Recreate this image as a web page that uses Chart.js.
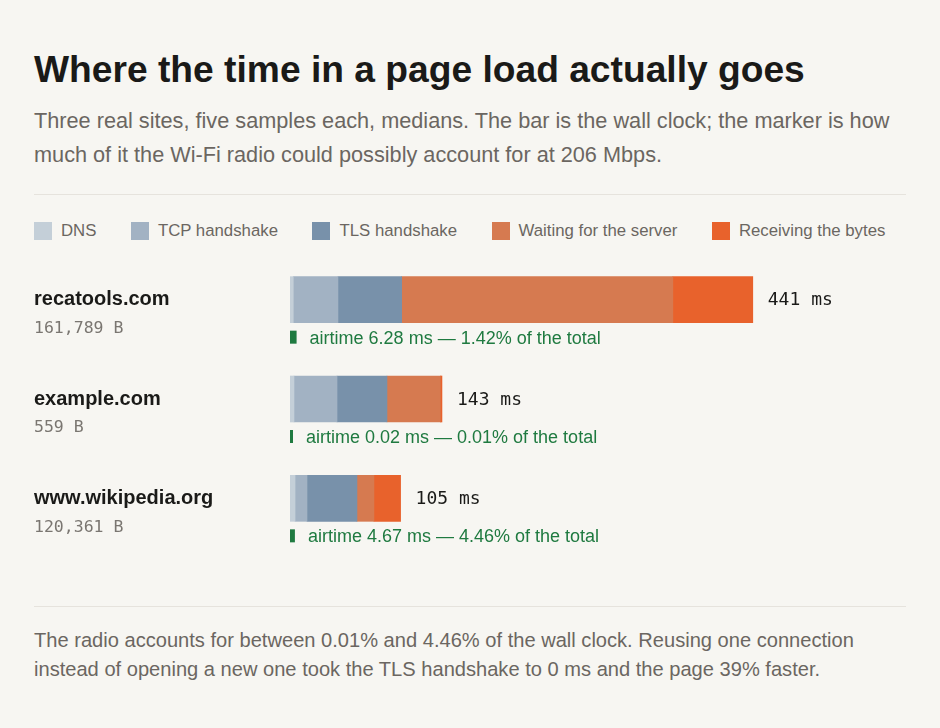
<!DOCTYPE html>
<html>
<head>
<meta charset="utf-8">
<script src="https://cdn.jsdelivr.net/npm/chart.js@4.4.1/dist/chart.umd.min.js"></script>
<style>
  body { margin: 0; background: #f7f6f2; font-family: "Liberation Sans", Arial, sans-serif; }
  .wrap { width: 872px; padding: 47px 34px 0 34px; }
  h1 { margin: 0; font-size: 37.2px; line-height: 44px; font-weight: bold; color: #1a1a18; }
  .sub { margin: 13px 0 0 0; font-size: 21.7px; line-height: 34px; color: #6b6661; }
  hr { border: 0; border-top: 1px solid #e6e3dd; margin: 0; }
  .rule-top { margin-top: 22px; }
  .legend { display: flex; margin-top: 26px; height: 20px; line-height: 20px; align-items: center; font-size: 16.8px; color: #6b6661; white-space: nowrap; }
  .legend span.item { display: flex; align-items: center; margin-right: 34.5px; flex-shrink: 0; }
  .legend span.sw { width: 18px; height: 18px; margin-right: 9px; display: inline-block; }
  .chart-box { position: relative; width: 872px; height: 298px; margin-top: 9px; }
  .rule-bottom { margin-top: 58px; }
  .foot { margin: 19px 0 0 0; font-size: 20.1px; line-height: 29px; color: #6b6661; }
</style>
</head>
<body>
<div class="wrap">
  <h1>Where the time in a page load actually goes</h1>
  <p class="sub">Three real sites, five samples each, medians. The bar is the wall clock; the marker is how much of it the Wi-Fi radio could possibly account for at 206 Mbps.</p>
  <hr class="rule-top">
  <div class="legend" id="legend"></div>
  <div class="chart-box"><canvas id="chart"></canvas></div>
  <hr class="rule-bottom">
  <p class="foot">The radio accounts for between 0.01% and 4.46% of the wall clock. Reusing one connection instead of opening a new one took the TLS handshake to 0 ms and the page 39% faster.</p>
</div>
<script>
// Sites and their page sizes
const sites = ['recatools.com', 'example.com', 'www.wikipedia.org'];
const pageBytes = ['161,789 B', '559 B', '120,361 B'];

// Phase durations in ms (medians)
const dnsMs = [3.1, 3.8, 4.8];
const tcpMs = [42.6, 41.0, 11.4];
const tlsMs = [60.7, 47.6, 47.6];
const waitMs = [258.4, 50.8, 16.2];
const receiveMs = [76.2, 1.6, 25.4];

// Wall clock totals and radio airtime
const totalMs = [441, 143, 105];
const airtimeMs = [6.28, 0.02, 4.67];
const airtimePct = [1.42, 0.01, 4.46];

const phaseLabels = ['DNS', 'TCP handshake', 'TLS handshake', 'Waiting for the server', 'Receiving the bytes'];
const phaseColors = ['#c4cfd8', '#a2b2c3', '#7891aa', '#d67a50', '#e8622c'];
const phaseData = [dnsMs, tcpMs, tlsMs, waitMs, receiveMs];

// Build legend
const legendEl = document.getElementById('legend');
phaseLabels.forEach((label, i) => {
    const item = document.createElement('span');
    item.className = 'item';
    item.innerHTML = '<span class="sw" style="background:' + phaseColors[i] + '"></span>' + label;
    legendEl.appendChild(item);
});

// Draws site labels, totals and airtime markers
const annotations = {
    id: 'annotations',
    afterDatasetsDraw(chart) {
        const ctx = chart.ctx;
        const x = chart.scales.x;
        const y = chart.scales.y;
        const barHalf = 23;
        ctx.save();
        sites.forEach((site, i) => {
            const cy = y.getPixelForValue(i);
            ctx.textAlign = 'left';
            ctx.textBaseline = 'middle';

            // site name and size
            ctx.fillStyle = '#1a1a18';
            ctx.font = 'bold 20px "Liberation Sans", Arial, sans-serif';
            ctx.fillText(site, 0, cy);
            ctx.fillStyle = '#7a7671';
            ctx.font = '16.5px "DejaVu Sans Mono", monospace';
            ctx.fillText(pageBytes[i], 0, cy + 29);

            // total label at bar end
            const end = x.getPixelForValue(dnsMs[i] + tcpMs[i] + tlsMs[i] + waitMs[i] + receiveMs[i]);
            ctx.fillStyle = '#1a1a18';
            ctx.font = '18px "DejaVu Sans Mono", monospace';
            ctx.fillText(totalMs[i] + ' ms', end + 15, cy + 1);

            // airtime marker
            const x0 = x.getPixelForValue(0);
            const w = Math.max(3, x.getPixelForValue(airtimeMs[i]) - x0);
            const my = cy + barHalf + 8;
            ctx.fillStyle = '#1f7a40';
            ctx.fillRect(x0, my, w, 13);
            ctx.textBaseline = 'alphabetic';
            ctx.font = '18px "Liberation Sans", Arial, sans-serif';
            ctx.fillText('airtime ' + airtimeMs[i].toFixed(2) + ' ms \u2014 ' + airtimePct[i].toFixed(2) + '% of the total', x0 + w + 13, my + 13);
        });
        ctx.restore();
    }
};

new Chart(document.getElementById('chart'), {
    type: 'bar',
    data: {
        labels: sites,
        datasets: phaseLabels.map((label, i) => ({
            label: label,
            data: phaseData[i],
            backgroundColor: phaseColors[i],
            borderWidth: 0,
            barThickness: 46
        }))
    },
    options: {
        indexAxis: 'y',
        responsive: true,
        maintainAspectRatio: false,
        animation: false,
        layout: { padding: { left: 256, right: 0, top: 0, bottom: 0 } },
        scales: {
            x: { stacked: true, min: 0, max: 587, display: false },
            y: { stacked: true, display: false }
        },
        plugins: {
            legend: { display: false },
            tooltip: { enabled: false }
        }
    },
    plugins: [annotations]
});
</script>
</body>
</html>
